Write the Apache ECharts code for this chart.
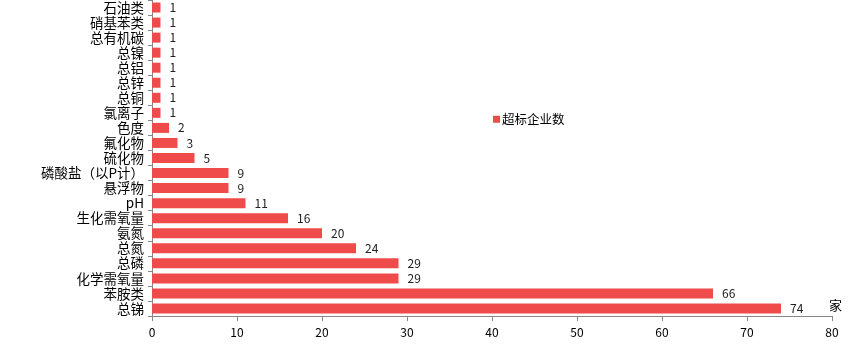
<!DOCTYPE html>
<html lang="zh">
<head>
	<meta charset="UTF-8">
	<title>超标企业数</title>
	<script src="https://cdn.jsdelivr.net/npm/echarts@6/dist/echarts.min.js"></script>
	<style>
		html, body { margin: 0; padding: 0; background: #fff; }
	</style>
</head>
<body>
	<div id="main" style="width: 857px;height: 352px;"></div>
	<script>
		// bottom to top
		var categories = ['总锑', '苯胺类', '化学需氧量', '总磷', '总氮', '氨氮', '生化需氧量', 'pH',
			'悬浮物', '磷酸盐（以P计）', '硫化物', '氟化物', '色度', '氯离子', '总铜', '总锌',
			'总铝', '总镍', '总有机碳', '硝基苯类', '石油类'];
		var counts = [74, 66, 29, 29, 24, 20, 16, 11, 9, 9, 5, 3, 2, 1, 1, 1, 1, 1, 1, 1, 1];
		var xTicks = [0, 10, 20, 30, 40, 50, 60, 70, 80];

		var font = '"Noto Sans CJK SC", "DejaVu Sans", sans-serif';
		var myChart = echarts.init(document.getElementById('main'));
		myChart.setOption({
			animation: false,
			textStyle: { fontFamily: font },
			legend: {
				data: ['超标企业数'],
				left: 488,
				top: 108,
				itemWidth: 7,
				itemHeight: 7,
				itemGap: 4,
				icon: 'rect',
				textStyle: { fontSize: 12.5, color: '#000', fontFamily: font, padding: [0, 0, 0, -3] }
			},
			grid: { left: 152, right: 25, top: 0, bottom: 36 },
			xAxis: {
				type: 'value',
				min: xTicks[0],
				max: xTicks[xTicks.length - 1],
				interval: 10,
				name: '家',
				nameLocation: 'end',
				nameGap: 0,
				nameTextStyle: { align: 'left', verticalAlign: 'bottom', padding: [0, 0, 4, -3], fontSize: 13, color: '#000' },
				axisLine: { show: true, lineStyle: { color: '#888' } },
				axisTick: { show: true, length: 5, lineStyle: { color: '#888' } },
				axisLabel: { fontSize: 12, color: '#000', margin: 10 },
				splitLine: { show: false }
			},
			yAxis: {
				type: 'category',
				data: categories,
				axisLine: { show: true, lineStyle: { color: '#888' } },
				axisTick: { show: true, length: 4, lineStyle: { color: '#888' } },
				axisLabel: { fontSize: 13.5, color: '#000', margin: 8, interval: 0 }
			},
			series: [{
				name: '超标企业数',
				type: 'bar',
				data: counts,
				barWidth: 10,
				itemStyle: { color: '#f04b4b' },
				label: { show: true, position: 'right', distance: 9, fontSize: 12, color: '#222' }
			}]
		});
	</script>
</body>
</html>
